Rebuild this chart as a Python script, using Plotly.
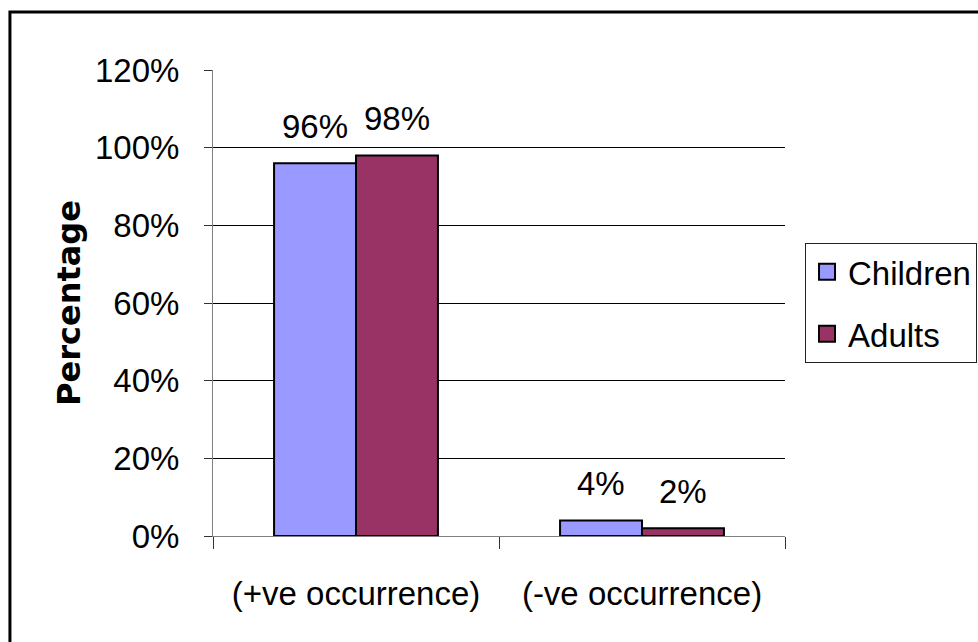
import plotly.graph_objects as go

categories = ["(+ve occurrence)", "(-ve occurrence)"]
children = [0.96, 0.04]
adults = [0.98, 0.02]
series_names = ["Children", "Adults"]
colors = ["#9999FF", "#993366"]
y_ticks = [0, 0.2, 0.4, 0.6, 0.8, 1.0, 1.2]
grid_vals = [0.2, 0.4, 0.6, 0.8, 1.0]

FONT = "Liberation Sans, Arial, sans-serif"
FS = 33
BARGAP = 0.427

fig = go.Figure()
for name, vals, col in zip(series_names, [children, adults], colors):
    fig.add_trace(go.Bar(
        x=categories, y=vals, name=name, showlegend=False,
        marker=dict(color=col, line=dict(color="black", width=2)),
        hoverinfo="skip",
    ))
    fig.add_trace(go.Scatter(
        x=[None], y=[None], mode="markers", name=name,
        marker=dict(symbol="square", size=16, color=col,
                    line=dict(color="black", width=2)),
        legendgroup=name,
    ))

off = (1 - BARGAP) / 4
annotations = []
for si, vals in enumerate([children, adults]):
    for ci, v in enumerate(vals):
        annotations.append(dict(
            x=ci + (-off if si == 0 else off), y=v, xref="x", yref="y",
            text=f"{round(v*100)}%", showarrow=False, yanchor="bottom",
            yshift=16, font=dict(family=FONT, size=FS, color="black"),
        ))

fig.update_layout(
    width=978, height=642,
    margin=dict(l=213, r=193, t=70, b=106, autoexpand=False),
    paper_bgcolor="white", plot_bgcolor="white",
    barmode="group", bargap=BARGAP, bargroupgap=0,
    font=dict(family=FONT, size=FS, color="black"),
    showlegend=True,
    legend=dict(
        x=1.035, y=0.629, xanchor="left", yanchor="top",
        bordercolor="#222222", borderwidth=1, bgcolor="white",
        font=dict(family=FONT, size=FS, color="black"),
        tracegroupgap=16, itemwidth=32,
    ),
    annotations=annotations,
    shapes=[dict(type="rect", xref="paper", yref="paper",
                 x0=-0.355, x1=1.4, y0=-0.3, y1=1.1245,
                 line=dict(color="black", width=3), layer="below")],
)

fig.update_xaxes(
    type="category", showline=True, linecolor="#808080", linewidth=1,
    ticks="outside", tickson="boundaries", ticklen=12, tickcolor="#333333",
    ticklabelstandoff=28, showgrid=False,
    tickfont=dict(family=FONT, size=FS, color="black"),
)
fig.update_yaxes(
    range=[0, 1.2], tickvals=y_ticks, tickformat=".0%",
    showline=True, linecolor="#808080", linewidth=1,
    ticks="outside", ticklen=8, tickcolor="#333333",
    ticklabelstandoff=18, showgrid=False, zeroline=False,
    minor=dict(tickvals=grid_vals, showgrid=True, gridcolor="black",
               gridwidth=1, ticks=""),
    tickfont=dict(family=FONT, size=FS, color="black"),
    title=dict(text="Percentage", standoff=4,
               font=dict(family="DejaVu Sans, sans-serif", size=32,
                         color="black", weight="bold")),
)

fig.write_html("out.html")
